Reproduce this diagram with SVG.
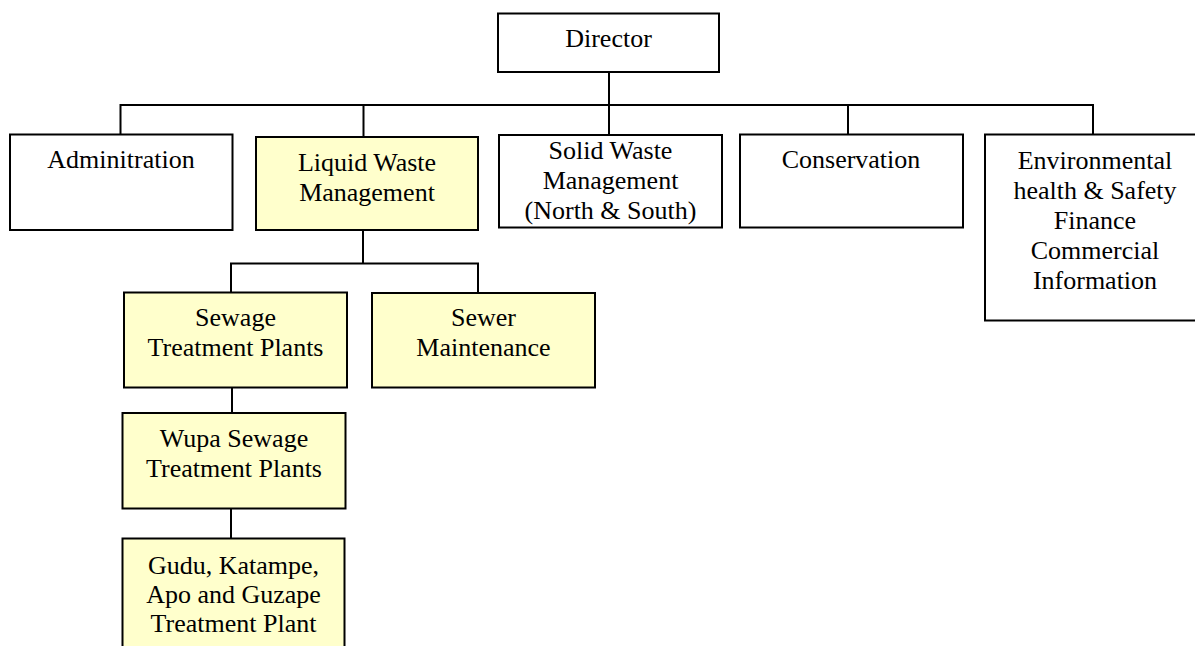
<svg xmlns="http://www.w3.org/2000/svg" width="1195" height="646" viewBox="0 0 1195 646">
  <style>
    .box { fill: #ffffff; stroke: #000000; stroke-width: 2; }
    .hl { fill: #ffffcc; }
    .lbl { font-family: "Liberation Serif", "Times New Roman", serif; font-size: 26px; fill: #000000; text-anchor: middle; }
    .wire { fill: none; stroke: #000000; stroke-width: 2; }
  </style>
  <rect width="1195" height="646" fill="#ffffff"/>

  <!-- connectors -->
  <g id="connectors" class="wire">
    <path d="M609 72 V135"/>
    <path d="M120.5 135 V105 H1093 V135"/>
    <path d="M363.5 105 V137"/>
    <path d="M848 105 V135"/>
    <path d="M363 230 V263.5"/>
    <path d="M231 293 V263.5 H478 V293"/>
    <path d="M232 387 V413"/>
    <path d="M231 508 V538"/>
  </g>

  <g id="director">
    <rect class="box" x="498" y="13.5" width="221" height="58.5"/>
    <text class="lbl" x="608.5" y="47">Director</text>
  </g>

  <g id="administration">
    <rect class="box" x="10" y="134.5" width="222.5" height="95.5"/>
    <text class="lbl" x="121" y="168">Adminitration</text>
  </g>

  <g id="liquid-waste">
    <rect class="box hl" x="256" y="137" width="222" height="93"/>
    <text class="lbl" x="367" y="171">Liquid Waste</text>
    <text class="lbl" x="367" y="200.5">Management</text>
  </g>

  <g id="solid-waste">
    <rect class="box" x="499" y="135" width="223" height="92.5"/>
    <text class="lbl" x="610.5" y="158.5">Solid Waste</text>
    <text class="lbl" x="610.5" y="189">Management</text>
    <text class="lbl" x="610.5" y="219">(North &amp; South)</text>
  </g>

  <g id="conservation">
    <rect class="box" x="740" y="134.5" width="223" height="93"/>
    <text class="lbl" x="851" y="168">Conservation</text>
  </g>

  <g id="environmental">
    <rect class="box" x="985" y="134.5" width="222" height="186"/>
    <text class="lbl" x="1095" y="169">Environmental</text>
    <text class="lbl" x="1095" y="199">health &amp; Safety</text>
    <text class="lbl" x="1095" y="229">Finance</text>
    <text class="lbl" x="1095" y="259">Commercial</text>
    <text class="lbl" x="1095" y="289">Information</text>
  </g>

  <g id="sewage-treatment">
    <rect class="box hl" x="124" y="292.5" width="223" height="95"/>
    <text class="lbl" x="235.5" y="325.5">Sewage</text>
    <text class="lbl" x="235.5" y="356">Treatment Plants</text>
  </g>

  <g id="sewer-maintenance">
    <rect class="box hl" x="372" y="293" width="223" height="94.5"/>
    <text class="lbl" x="483.5" y="325.5">Sewer</text>
    <text class="lbl" x="483.5" y="356">Maintenance</text>
  </g>

  <g id="wupa">
    <rect class="box hl" x="122.5" y="413" width="223" height="95.5"/>
    <text class="lbl" x="234" y="447">Wupa Sewage</text>
    <text class="lbl" x="234" y="477">Treatment Plants</text>
  </g>

  <g id="gudu-katampe-apo-guzape">
    <rect class="box hl" x="122.5" y="538.5" width="222" height="120"/>
    <text class="lbl" x="233.5" y="574">Gudu, Katampe,</text>
    <text class="lbl" x="233.5" y="602.5">Apo and Guzape</text>
    <text class="lbl" x="233.5" y="632">Treatment Plant</text>
  </g>
</svg>
